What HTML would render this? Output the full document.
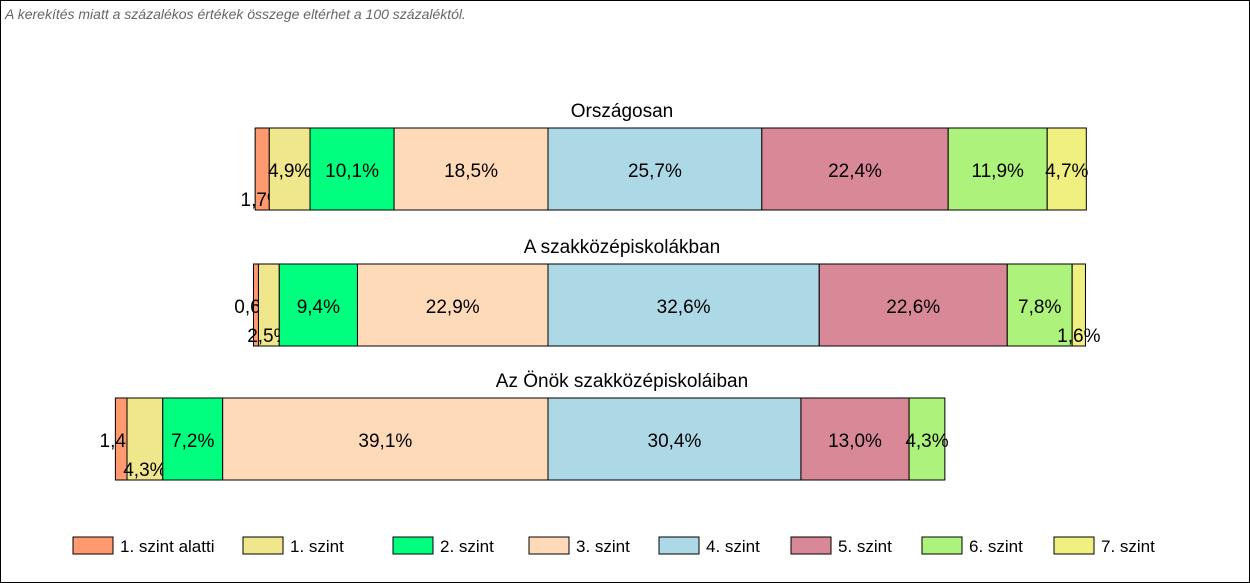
<!DOCTYPE html>
<html><head><meta charset="utf-8"><style>
body{margin:0;background:#fff;}
#wrap{position:relative;width:1248px;height:581px;border:1px solid #000;overflow:hidden;font-family:"Liberation Sans",sans-serif;}
#note{position:absolute;left:4px;top:5px;font-size:14px;font-style:italic;color:#666;}
</style></head><body>
<div id="wrap">
<div id="note">A kerekítés miatt a  százalékos értékek összege eltérhet a 100 százaléktól.</div>
<svg id="chart" width="1248" height="581" style="position:absolute;left:0;top:0"></svg>
</div>
<script>
const rowTitles=["Országosan","A szakközépiskolákban","Az Önök szakközépiskoláiban"];
const levelNames=["1. szint alatti","1. szint","2. szint","3. szint","4. szint","5. szint","6. szint","7. szint"];
const row1=[1.7,4.9,10.1,18.5,25.7,22.4,11.9,4.7];
const row2=[0.6,2.5,9.4,22.9,32.6,22.6,7.8,1.6];
const row3=[1.4,4.3,7.2,39.1,30.4,13.0,4.3,0];
const rows=[row1,row2,row3];
const labelBelow=[[1,0,0,0,0,0,0,0],[0,1,0,0,0,0,0,1],[0,1,0,0,0,0,0,0]];
const colors=["#FF9A70","#F0E68C","#00FF7F","#FFDAB9","#ADD8E6","#D98898","#ADF27A","#F0F080"];
const NS="http://www.w3.org/2000/svg";
const svg=document.getElementById('chart');
const center=547,scale=8.32,barH=82,rowTop=[127,263,397];
function x(p){return center+p*scale;}
function mk(t,a){const e=document.createElementNS(NS,t);for(const k in a)e.setAttribute(k,a[k]);svg.appendChild(e);return e;}
rows.forEach((vals,r)=>{
  const t=mk('text',{x:center+74,y:rowTop[r]-11,'font-size':19,'text-anchor':'middle',fill:'#000'});
  t.textContent=rowTitles[r];
  
  
  let cum=-(vals[0]+vals[1]+vals[2]+vals[3]);
  vals.forEach((v,i)=>{
    if(v<=0){return;}
    const x0=x(cum),x1=x(cum+v);
    const rc=mk('rect',{x:x0,y:rowTop[r],width:x1-x0,height:barH,fill:colors[i],stroke:'#000','stroke-width':1});
    
    
    const below=labelBelow[r][i];
    const lb=mk('text',{x:(x0+x1)/2,y:rowTop[r]+(below?78:49),'font-size':19,'text-anchor':'middle',fill:'#000'});
    lb.textContent=v.toFixed(1).replace('.',',')+'%';
    
    
    cum+=v;
  });
});
const legX=[72,242,392,528,658,790,921,1053];
levelNames.forEach((n,i)=>{
  const b=mk('rect',{x:legX[i],y:536,width:40,height:17,fill:colors[i],stroke:'#000','stroke-width':1});
  
  
  const t=mk('text',{x:legX[i]+47,y:551,'font-size':17,fill:'#000'});
  t.textContent=n;
  
  
});
</script>
</body></html>
